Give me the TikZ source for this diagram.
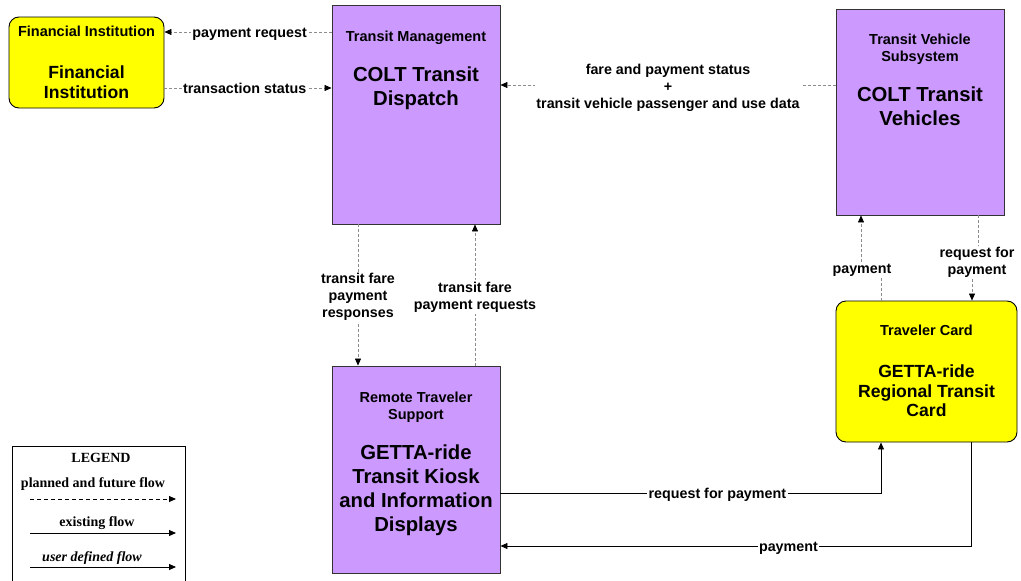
\documentclass[tikz,border=0pt]{standalone}
\usepackage{fontspec}
\setmainfont{Liberation Sans}
\newfontfamily\legfont{Liberation Serif}
\usetikzlibrary{arrows.meta}
\definecolor{purp}{HTML}{CC99FF}
\definecolor{yel}{HTML}{FFFF00}
\definecolor{dgray}{HTML}{8C8C8C}
\begin{document}
\begin{tikzpicture}[x=1pt,y=-1pt,
  sysbox/.style={draw=black!80, line width=0.9pt, fill=purp, inner sep=0pt},
  termbox/.style={draw=black, line width=0.9pt, fill=yel, rounded corners=10pt, inner sep=0pt},
  hdr/.style={font=\bfseries\fontsize{14.5}{17}\selectfont, align=center, inner sep=0pt},
  ttl/.style={font=\bfseries\fontsize{20.3}{24}\selectfont, align=center, inner sep=0pt},
  ttls/.style={font=\bfseries\fontsize{17.6}{19.5}\selectfont, align=center, inner sep=0pt},
  lbl/.style={font=\bfseries\fontsize{14.3}{17}\selectfont, align=center, fill=white, inner sep=1.5pt, yshift=-2pt},
  planned/.style={draw=dgray, line width=0.6pt, dash pattern=on 3pt off 2pt},
  existing/.style={draw=black, line width=0.9pt},
  tip/.style={-{Triangle[length=7pt,width=6pt,color=black]}},
  legtxt/.style={font=\legfont\bfseries\fontsize{14}{16}\selectfont, inner sep=0pt}
]
\useasboundingbox (0,0) rectangle (1021,581);
\fill[white] (0,0) rectangle (1021,581);

% boxes
\node[termbox, minimum width=155pt, minimum height=91pt] (fi) at (86.5,62.5) {};
\node[sysbox, minimum width=168pt, minimum height=219pt] (tm) at (416,114.5) {};
\node[sysbox, minimum width=168pt, minimum height=206pt] (tvs) at (920,112) {};
\node[termbox, minimum width=181pt, minimum height=141pt] (tc) at (926.5,371.5) {};
\node[sysbox, minimum width=168pt, minimum height=207pt] (rts) at (416,469.5) {};

% box texts
\node[hdr] (fih) at (86.5,31) {Financial Institution};
\node[ttls] (fit) at (86.5,82.2) {Financial\\Institution};
\node[hdr] (tmh) at (416,38) {Transit Management};
\node[ttl] (tmt) at (416,88) {COLT Transit\\Dispatch};
\node[hdr] (tvsh) at (920,49.5) {Transit Vehicle\\Subsystem};
\node[ttl] (tvst) at (920,106) {COLT Transit\\Vehicles};
\node[hdr] (tch) at (926.5,330) {Traveler Card};
\node[ttls] (tct) at (926.5,390.9) {GETTA-ride\\Regional Transit\\Card};
\node[hdr] (rtsh) at (416,407.5) {Remote Traveler\\Support};
\node[ttl] (rtst) at (416,490) {GETTA-ride\\Transit Kiosk\\and Information\\Displays};

% planned flows
\draw[planned, tip] (tm.west |- 0,32) -- node[lbl, pos=0.49] (l1) {payment request} (fi.east |- 0,32);
\draw[planned, tip] (fi.east |- 0,88) -- node[lbl, pos=0.48, yshift=2pt] (l2) {transaction status} (tm.west |- 0,88);
\draw[planned, tip] (tvs.west |- 0,85) -- node[lbl, yshift=-1pt] (l3) {fare and payment status\\+\\transit vehicle passenger and use data} (tm.east |- 0,85);
\draw[planned, tip] (tm.south -| 358,0) -- node[lbl] (l4) {transit fare\\payment\\responses} (rts.north -| 358,0);
\draw[planned, tip] (rts.north -| 475,0) -- node[lbl] (l5) {transit fare\\payment requests} (tm.south -| 475,0);

% payment up to vehicles (offset label)
\node[lbl] (l6) at (862,268) {payment};
\draw[planned] (tc.north -| 881,0) -- (l6.south -| 881,0);
\draw[planned, tip] (l6.north -| 861,0) -- (tvs.south -| 861,0);

% request for payment down to card
\node[lbl] (l7) at (977,260.5) {request for\\payment};
\draw[planned] (tvs.south -| 978,0) -- (l7.north -| 978,0);
\draw[planned, tip] (l7.south -| 972,0) -- (tc.north -| 972,0);

% existing flows
\draw[existing, tip] (rts.east |- 0,493) -| node[lbl, pos=0.285] (l8) {request for payment} (tc.south -| 881,0);
\draw[existing, tip] (tc.south -| 971,0) |- node[lbl, pos=0.694] (l9) {payment} (rts.east |- 0,546);

% legend
\node[draw=black, line width=0.9pt, minimum width=173pt, minimum height=150pt, inner sep=0pt] (leg) at (98.5,521) {};
\node[legtxt] (legt) at (101,458) {LEGEND};
\node[legtxt] (legp) at (93,484) {planned and future flow};
\coordinate (lpa) at (30,499);
\coordinate (lpb) at (176,499);
\draw[black, line width=0.9pt, dash pattern=on 4pt off 3pt, tip] (lpa) -- (lpb);
\node[legtxt] (lege) at (97,523) {existing flow};
\coordinate (lea) at (30,533);
\coordinate (leb) at (176,533);
\draw[existing, tip] (lea) -- (leb);
\node[legtxt, font=\legfont\bfseries\itshape\fontsize{14}{16}\selectfont] (legu) at (92,558) {user defined flow};
\coordinate (lua) at (30,567);
\coordinate (lub) at (176,567);
\draw[existing, tip] (lua) -- (lub);
\end{tikzpicture}
\end{document}
